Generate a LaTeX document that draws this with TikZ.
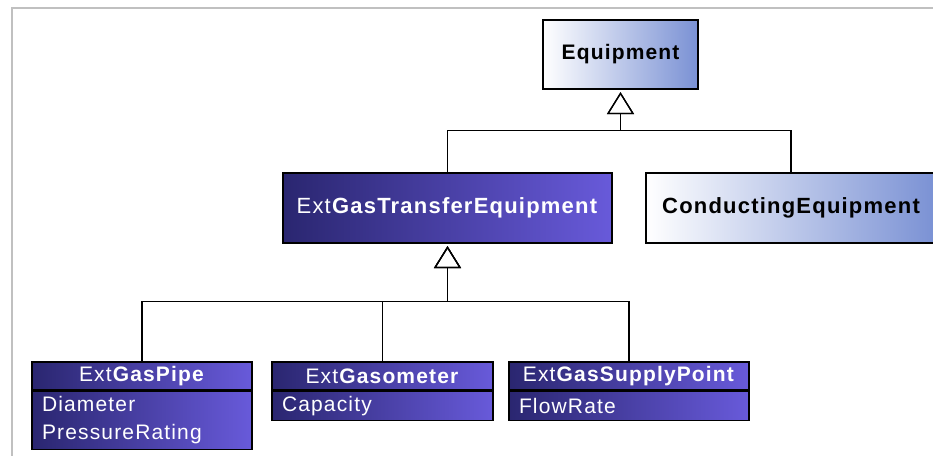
\documentclass[tikz,border=0pt]{standalone}
\usepackage{fontspec}
\setmainfont{Liberation Sans}[LetterSpace=5.5]
\usetikzlibrary{arrows.meta}
\definecolor{dkL}{RGB}{42,38,112}
\definecolor{dkR}{RGB}{104,90,218}
\definecolor{ltR}{RGB}{122,145,212}
\definecolor{framegray}{RGB}{192,192,192}
\begin{document}
\begin{tikzpicture}[x=1pt,y=-1pt,
  cls/.style={draw=black, line width=1.3pt, inner sep=0pt, font=\fontsize{21}{28}\selectfont},
  lite/.style={cls, left color=white, right color=ltR, text=black},
  dark/.style={cls, left color=dkL, right color=dkR, text=white},
  bigtext/.style={font=\fontsize{22}{28}\selectfont},
  gen/.style={line width=1.3pt, -{Triangle[open, length=22pt, width=27pt, line width=1.3pt]}, shorten >=2.5pt}
]
\useasboundingbox (0,0) rectangle (933,455);
\clip (0,0) rectangle (933,455);
\fill[white] (0,0) rectangle (933,455);
\draw[framegray, line width=2pt] (11.5,470) -- (11.5,7.5) -- (945,7.5);

\node[lite, minimum width=155pt, minimum height=69pt] (equip) at (620.5,54.5) {\bfseries Equipment};
\node[dark, bigtext, minimum width=329pt, minimum height=70pt] (xgte) at (447.5,208) {Ext\textbf{GasTransferEquipment}};
\node[lite, bigtext, minimum width=290pt, minimum height=70pt] (cond) at (791,208) {\bfseries ConductingEquipment};

\node[dark, minimum width=220pt, minimum height=28pt] (pipeH) at (142,376) {Ext\textbf{GasPipe}};
\node[dark, minimum width=220pt, minimum height=58pt, text width=200pt, align=left, anchor=north] (pipeA) at (pipeH.south) {Diameter\\PressureRating};

\node[dark, minimum width=221pt, minimum height=28pt] (gasoH) at (382.5,376) {Ext\textbf{Gasometer}};
\node[dark, minimum width=221pt, minimum height=29pt, text width=201pt, align=left, anchor=north] (gasoA) at (gasoH.south) {Capacity};

\node[dark, minimum width=240pt, minimum height=28pt] (suppH) at (629,376) {Ext\textbf{GasSupplyPoint}};
\node[dark, minimum width=240pt, minimum height=29pt, text width=220pt, align=left, anchor=north] (suppA) at (suppH.south) {FlowRate};

\draw[gen] (xgte.north) -- ++(0,-42) -| (equip.south);
\draw[gen] (cond.north) -- ++(0,-42) -| (equip.south);
\draw[gen] (pipeH.north) -- ++(0,-60) -| (xgte.south);
\draw[gen] (gasoH.north) -- ++(0,-60) -| (xgte.south);
\draw[gen] (suppH.north) -- ++(0,-60) -| (xgte.south);
\end{tikzpicture}
\end{document}
